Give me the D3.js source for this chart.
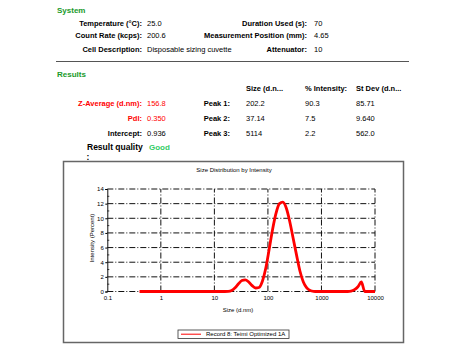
<!DOCTYPE html>
<html>
<head>
<meta charset="utf-8">
<script src="https://cdn.jsdelivr.net/npm/d3@7"></script>
<style>
  body { margin: 0; background: #fff; }
  svg { font-family: "Liberation Sans", Arial, sans-serif; }
</style>
</head>
<body>
<div id="chart"></div>
<script>
const width = 466;
const height = 364;

// report text
const systemRows = [
  ["Temperature (°C):", "25.0", "Duration Used (s):", "70"],
  ["Count Rate (kcps):", "200.6", "Measurement Position (mm):", "4.65"],
  ["Cell Description:", "Disposable sizing cuvette", "Attenuator:", "10"],
];
const peakHeaders = ["Size (d.n...", "% Intensity:", "St Dev (d.n..."];
const resultLabels = ["Z-Average (d.nm):", "PdI:", "Intercept:"];
const resultValues = ["156.8", "0.350", "0.936"];
const peakLabels = ["Peak 1:", "Peak 2:", "Peak 3:"];
const peakSizes = ["202.2", "37.14", "5114"];
const peakIntensity = ["90.3", "7.5", "2.2"];
const peakStDev = ["85.71", "9.640", "562.0"];

// size distribution (d.nm vs intensity %)
const sizes = [0.4, 15.69, 18.17, 21.04, 24.36, 28.21, 32.67, 37.84, 43.82, 50.75, 58.77,
  68.06, 78.82, 91.28, 105.7, 122.4, 141.8, 164.2, 190.1, 220.2, 255.0, 295.3, 342.0,
  396.1, 458.7, 531.2, 615.1, 712.4, 825.0, 3091, 3580, 4145, 4801, 5560, 6439, 10000];
const intensity = [0, 0, 0.02, 0.15, 0.5, 1.05, 1.5, 1.6, 1.3, 0.8, 0.48,
  0.55, 1.4, 3.2, 5.8, 8.5, 10.7, 12.0, 12.2, 11.4, 9.6, 7.3, 5.0,
  2.8, 1.3, 0.5, 0.15, 0.03, 0, 0, 0.05, 0.25, 0.65, 1.3, 0, 0];
const xTicks = [0.1, 1, 10, 100, 1000, 10000];
const yTicks = [0, 2, 4, 6, 8, 10, 12, 14];
const yMinor = [1, 3, 5, 7, 9, 11, 13];
const seriesName = "Record 8: Teimi Optimized 1A";

const svg = d3.select("#chart").append("svg")
  .attr("width", width).attr("height", height);

const green = "#1a9a2a";
const fs = 7.5;

// System section
svg.append("text").attr("x", 57).attr("y", 13)
  .style("font-size", "8px").style("font-weight", "bold").attr("fill", green).text("System");

const sysY = [26, 38, 52];
systemRows.forEach((r, i) => {
  const g = svg.append("g").style("font-size", fs + "px");
  g.append("text").attr("x", 142).attr("y", sysY[i]).attr("text-anchor", "end")
    .style("font-weight", "bold").text(r[0]);
  g.append("text").attr("x", 147).attr("y", sysY[i]).text(r[1]);
  g.append("text").attr("x", 307).attr("y", sysY[i]).attr("text-anchor", "end")
    .style("font-weight", "bold").text(r[2]);
  g.append("text").attr("x", 314).attr("y", sysY[i]).text(r[3]);
});

svg.append("line").attr("x1", 56).attr("x2", 409).attr("y1", 61.5).attr("y2", 61.5)
  .attr("stroke", "#555").attr("stroke-width", 1.2);

// Results section
svg.append("text").attr("x", 57).attr("y", 77)
  .style("font-size", "8px").style("font-weight", "bold").attr("fill", green).text("Results");

const colX = [246, 305, 356];
peakHeaders.forEach((h, i) => {
  svg.append("text").attr("x", colX[i]).attr("y", 91)
    .style("font-size", fs + "px").style("font-weight", "bold").text(h);
});

const resY = [106, 121, 136];
resultLabels.forEach((lab, i) => {
  const col = i < 2 ? "#ff0000" : "#000";
  const g = svg.append("g").style("font-size", fs + "px");
  g.append("text").attr("x", 142).attr("y", resY[i]).attr("text-anchor", "end")
    .style("font-weight", "bold").attr("fill", col).text(lab);
  g.append("text").attr("x", 147).attr("y", resY[i]).attr("fill", col).text(resultValues[i]);
  g.append("text").attr("x", 230).attr("y", resY[i]).attr("text-anchor", "end")
    .style("font-weight", "bold").text(peakLabels[i]);
  [peakSizes, peakIntensity, peakStDev].forEach((arr, j) => {
    g.append("text").attr("x", colX[j]).attr("y", resY[i]).text(arr[i]);
  });
});

svg.append("text").attr("x", 87).attr("y", 150)
  .style("font-size", "8.5px").style("font-weight", "bold").text("Result quality");
svg.append("text").attr("x", 149).attr("y", 150)
  .style("font-size", "8px").style("font-weight", "bold").attr("fill", "#33cc66").text("Good");
svg.append("text").attr("x", 86.5).attr("y", 160)
  .style("font-size", "8.5px").style("font-weight", "bold").text(":");

// Chart frame
svg.append("rect").attr("x", 63.5).attr("y", 161.5).attr("width", 340).attr("height", 181)
  .attr("fill", "none").attr("stroke", "#666").attr("stroke-width", 1.5);

svg.append("text").attr("x", 234).attr("y", 172).attr("text-anchor", "middle")
  .style("font-size", "6px").text("Size Distribution by Intensity");

const x = d3.scaleLog().domain([0.1, 10000]).range([107.3, 375]);
const y = d3.scaleLinear().domain([0, 14]).range([291.5, 189]);

const dash = "6,2,1,2";
// grid
svg.append("g").selectAll("line").data(yTicks).join("line")
  .attr("x1", x(0.1)).attr("x2", x(10000))
  .attr("y1", d => y(d)).attr("y2", d => y(d))
  .attr("stroke", "#111").attr("stroke-width", 1).attr("stroke-dasharray", dash);
svg.append("g").selectAll("line").data(xTicks.slice(1)).join("line")
  .attr("x1", d => x(d)).attr("x2", d => x(d))
  .attr("y1", y(0)).attr("y2", y(14))
  .attr("stroke", "#111").attr("stroke-width", 1).attr("stroke-dasharray", dash);

// left axis
const yAxis = svg.append("g").attr("transform", `translate(${x(0.1)},0)`)
  .call(d3.axisLeft(y).tickValues(yTicks).tickSize(2).tickPadding(1.5));
yAxis.select(".domain").attr("stroke", "#111").attr("stroke-width", 1);
yAxis.selectAll("text").style("font-size", "6px").attr("font-family", "Liberation Sans, Arial");
svg.append("g").selectAll("line").data(yMinor).join("line")
  .attr("x1", x(0.1)).attr("x2", x(0.1) + 2)
  .attr("y1", d => y(d)).attr("y2", d => y(d))
  .attr("stroke", "#111").attr("stroke-width", 0.8);

// bottom labels
const xAxis = svg.append("g").attr("transform", `translate(0,${y(0)})`)
  .call(d3.axisBottom(x).tickValues(xTicks).tickFormat(d3.format("~g")).tickSize(0).tickPadding(4));
xAxis.select(".domain").remove();
xAxis.selectAll("text").style("font-size", "6px").attr("font-family", "Liberation Sans, Arial");

svg.append("text").attr("x", 238).attr("y", 312).attr("text-anchor", "middle")
  .style("font-size", "6px").text("Size (d.nm)");
svg.append("text").attr("transform", `translate(94,238) rotate(-90)`).attr("text-anchor", "middle")
  .style("font-size", "6px").text("Intensity (Percent)");

// curve
const pts = sizes.map((s, i) => [s, intensity[i]]);
svg.append("path").datum(pts)
  .attr("fill", "none").attr("stroke", "#ff0000").attr("stroke-width", 2.8)
  .attr("stroke-linejoin", "round")
  .attr("d", d3.line().x(d => x(d[0])).y(d => y(d[1])).curve(d3.curveMonotoneX));

// legend
svg.append("rect").attr("x", 178).attr("y", 330).attr("width", 111).attr("height", 8.5)
  .attr("fill", "#fff").attr("stroke", "#333").attr("stroke-width", 0.8);
svg.append("line").attr("x1", 181).attr("x2", 201).attr("y1", 334.2).attr("y2", 334.2)
  .attr("stroke", "#ff0000").attr("stroke-width", 1);
svg.append("text").attr("x", 206).attr("y", 336.3)
  .style("font-size", "6px").text(seriesName);
</script>
</body>
</html>
